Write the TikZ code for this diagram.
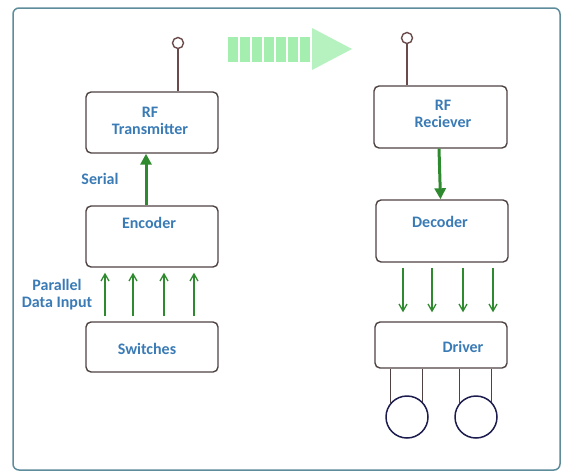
\documentclass[tikz,border=0pt]{standalone}
\usepackage{fontspec}
\setmainfont{Carlito}
\usetikzlibrary{arrows.meta}
\definecolor{txtblue}{HTML}{3A7BB6}
\definecolor{boxline}{HTML}{4E4242}
\definecolor{antline}{HTML}{6A4A4A}
\definecolor{arrgreen}{HTML}{2F8A2F}
\definecolor{wavegreen}{HTML}{A4EEB0}
\definecolor{motorline}{HTML}{1C1C4E}
\definecolor{framecol}{HTML}{5E8C9A}

\begin{document}
\begin{tikzpicture}[x=1pt, y=-1pt,
  box/.style={draw=boxline, line width=1.4pt, rounded corners=5pt, minimum width=132pt, inner sep=0pt},
  lbl/.style={text=txtblue, font=\fontsize{16}{17}\selectfont\bfseries, align=center, inner sep=0pt},
  ant/.style={circle, draw=antline, line width=1.4pt, fill=white, minimum size=11pt, inner sep=0pt},
  motor/.style={circle, draw=motorline, line width=1.5pt, minimum size=42pt, inner sep=0pt},
  wire/.style={draw=boxline, line width=1.5pt},
  thin/.style={draw=arrgreen, line width=1.3pt, -{Straight Barb[length=7pt, width=8pt]}},
  fat/.style={draw=arrgreen, line width=3pt, -{Triangle[length=11pt, width=11pt]}}
]
  \useasboundingbox (0,0) rectangle (564,474);
  \draw[framecol, line width=1.5pt, rounded corners=6pt] (13,8) rectangle (560,470);

  % transmitter side
  \node[box, minimum height=61pt] (tx) at (152,122.5) {};
  \node[box, minimum height=61pt] (enc) at (152,236.5) {};
  \node[box, minimum height=50pt] (sw) at (152,347) {};
  \node[lbl] (txtext) at (150,121) {RF\\Transmitter};
  \node[lbl] (enctext) at (149,223) {Encoder};
  \node[lbl] (swtext) at (147,349) {Switches};
  \node[lbl] (serial) at (100,179) {Serial};
  \node[lbl] (parallel) at (57,295) {Parallel\\Data Input};
  \node[ant] (txant) at (178,43) {};
  \draw[antline, line width=1.4pt] (txant.south) -- (txant.south |- tx.north);
  \draw[fat] ([xshift=-6pt]enc.north) -- ([xshift=-6pt]tx.south);
  \foreach \x in {105,133,164,194}
    \draw[thin, shorten <=5pt, shorten >=5pt] (sw.north -| \x,0) -- (enc.south -| \x,0);

  % radio link
  \foreach \i in {0,...,6}
    \fill[wavegreen] (228+12*\i,37) rectangle (238+12*\i,62);
  \fill[wavegreen!80] (312,28) -- (352,49) -- (312,70) -- cycle;

  % receiver side
  \node[box, minimum width=133pt, minimum height=62pt] (rx) at (440.5,117) {};
  \node[box, minimum height=62pt] (dec) at (442,231) {};
  \node[box, minimum height=46pt] (drv) at (441,345) {};
  \node[lbl] (rxtext) at (443,114) {RF\\Reciever};
  \node[lbl] (dectext) at (440,222) {Decoder};
  \node[lbl] (drvtext) at (463,347) {Driver};
  \node[ant] (rxant) at (407,38) {};
  \draw[antline, line width=1.4pt] (rxant.south) -- (rxant.south |- rx.north);
  \draw[fat] ([xshift=-1.5pt]rx.south) -- ([xshift=-1.5pt]dec.north);
  \foreach \x in {403,432,463,493}
    \draw[thin, shorten <=5pt, shorten >=9pt] (dec.south -| \x,0) -- (drv.north -| \x,0);

  % motors
  \node[motor] (m1) at (407,417) {};
  \node[motor] (m2) at (476,417) {};
  \foreach \m in {m1,m2} {
    \draw[wire] (\m.140 |- drv.south) -- (\m.140);
    \draw[wire] (\m.45 |- drv.south) -- (\m.45);
  }
\end{tikzpicture}
\end{document}
